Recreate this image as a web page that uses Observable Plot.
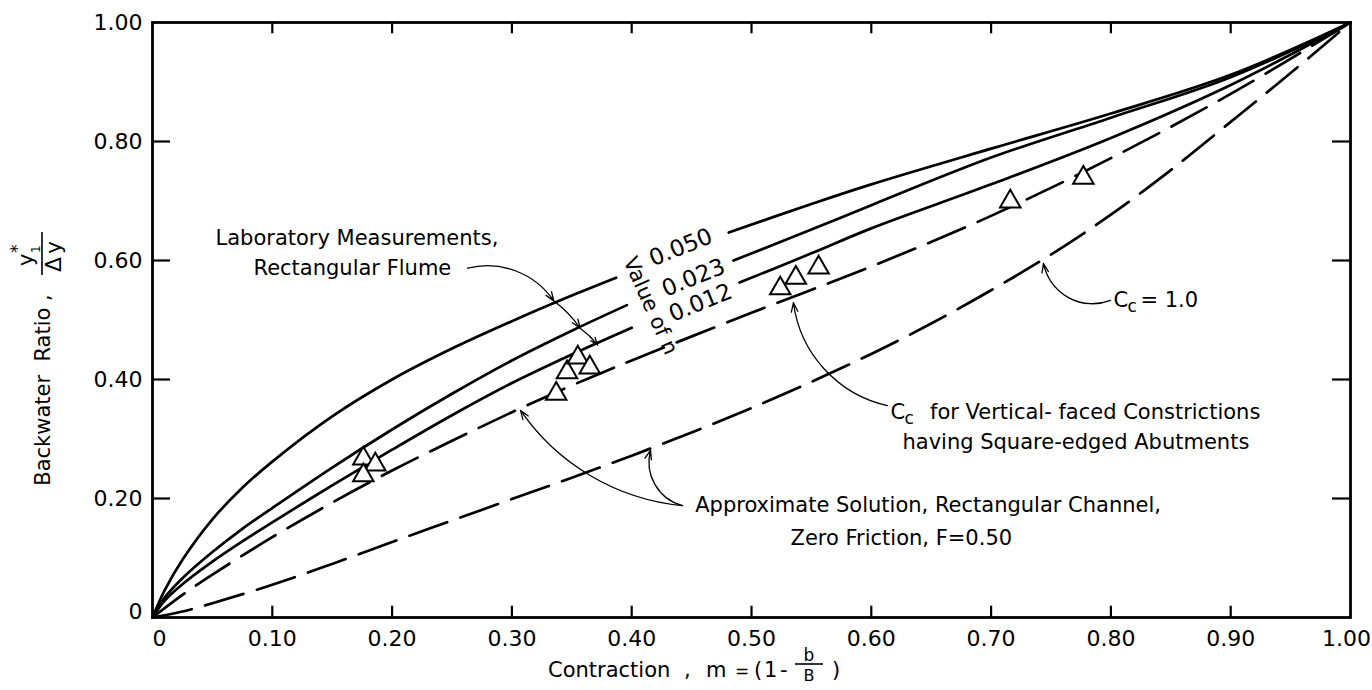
<!DOCTYPE html>
<html>
<head>
<meta charset="utf-8">
<script src="https://cdn.jsdelivr.net/npm/d3@7"></script>
<script src="https://cdn.jsdelivr.net/npm/@observablehq/plot@0.6"></script>
<style>
  body { margin: 0; background: #fff; }
  #chart { width: 1372px; height: 690px; }
</style>
</head>
<body>
<div id="chart"></div>
<script>
// ---------- tick values and labels ----------
const xTicks = [0, 0.1, 0.2, 0.3, 0.4, 0.5, 0.6, 0.7, 0.8, 0.9, 1.0];
const xTickLabels = ["0", "0.10", "0.20", "0.30", "0.40", "0.50", "0.60", "0.70", "0.80", "0.90", "1.00"];
const yTicks = [0, 0.2, 0.4, 0.6, 0.8, 1.0];
const yTickLabels = ["0", "0.20", "0.40", "0.60", "0.80", "1.00"];

// ---------- curves (m = contraction, r = backwater ratio); null = break for the label ----------
// Laboratory curve, n = 0.050
const n050M = [0, 0.01, 0.025, 0.05, 0.075, 0.1, 0.15, 0.2, 0.25, 0.3, 0.35, 0.387, null, 0.481, 0.55, 0.6, 0.7, 0.8, 0.9, 1.0];
const n050R = [0, 0.045, 0.097, 0.165, 0.218, 0.262, 0.338, 0.4, 0.452, 0.498, 0.541, 0.571, null, 0.647, 0.695, 0.728, 0.788, 0.847, 0.912, 1.0];
// Laboratory curve, n = 0.023
const n023M = [0, 0.01, 0.025, 0.05, 0.075, 0.1, 0.15, 0.2, 0.25, 0.3, 0.35, 0.396, null, 0.485, 0.55, 0.6, 0.7, 0.8, 0.9, 1.0];
const n023R = [0, 0.033, 0.066, 0.11, 0.149, 0.184, 0.252, 0.316, 0.376, 0.432, 0.482, 0.525, null, 0.600, 0.652, 0.693, 0.773, 0.840, 0.908, 1.0];
// Laboratory curve, n = 0.012
const n012M = [0, 0.01, 0.025, 0.05, 0.075, 0.1, 0.15, 0.2, 0.25, 0.3, 0.35, 0.40, null, 0.49, 0.55, 0.6, 0.7, 0.8, 0.9, 1.0];
const n012R = [0, 0.028, 0.056, 0.094, 0.128, 0.16, 0.222, 0.282, 0.34, 0.394, 0.442, 0.487, null, 0.563, 0.612, 0.654, 0.728, 0.806, 0.895, 1.0];
// Approximate solution, Cc for vertical-faced constrictions
const ccvM = [0, 0.025, 0.05, 0.1, 0.15, 0.2, 0.25, 0.3, 0.35, 0.4, 0.5, 0.6, 0.7, 0.8, 0.9, 1.0];
const ccvR = [0, 0.038, 0.072, 0.135, 0.193, 0.247, 0.297, 0.345, 0.39, 0.432, 0.512, 0.59, 0.675, 0.772, 0.88, 1.0];
// Approximate solution, Cc = 1.0
const cc1M = [0, 0.025, 0.05, 0.1, 0.15, 0.2, 0.25, 0.3, 0.35, 0.4, 0.45, 0.5, 0.55, 0.6, 0.65, 0.7, 0.75, 0.8, 0.85, 0.9, 0.95, 1.0];
const cc1R = [0, 0.01, 0.024, 0.055, 0.09, 0.127, 0.163, 0.199, 0.235, 0.272, 0.311, 0.352, 0.396, 0.443, 0.494, 0.55, 0.61, 0.677, 0.752, 0.833, 0.915, 1.0];

// Laboratory measurements (triangles)
const labM = [0.176, 0.186, 0.176, 0.337, 0.346, 0.355, 0.365, 0.524, 0.537, 0.556, 0.716, 0.777];
const labR = [0.267, 0.257, 0.239, 0.376, 0.412, 0.437, 0.420, 0.553, 0.571, 0.588, 0.699, 0.739];

// ---------- build tables ----------
function table(ms, rs) {
  return ms.map((m, i) => ({ m: m == null ? NaN : m, r: rs[i] == null ? NaN : rs[i] }));
}
const lab = labM.map((m, i) => ({ m, r: labR[i] }));
const innerX = xTicks.slice(1, -1);
const innerY = yTicks.slice(1, -1);

const FONT = "DejaVu Sans";
const lineW = 2.7;
const dash = "40,14";
const CURVE = "catmull-rom";

function note(t, x, y) { return [{ t, x, y }]; }
function arrow(x1, y1, x2, y2, bend) {
  return Plot.arrow([{ x1, y1, x2, y2 }], {
    x1: "x1", y1: "y1", x2: "x2", y2: "y2", bend,
    stroke: "black", strokeWidth: 1.3, headLength: 11, headAngle: 40
  });
}
function txt(data, opts) {
  return Plot.text(data, Object.assign({ x: "x", y: "y", text: "t", fill: "black", fontSize: 21, textAnchor: "start" }, opts));
}
const xl = xTicks.map((v, i) => ({ v, t: xTickLabels[i] }));
const yl = yTicks.map((v, i) => ({ v, t: yTickLabels[i] }));

const chart = Plot.plot({
  width: 1372,
  height: 690,
  marginLeft: 152,
  marginRight: 22,
  marginTop: 22,
  marginBottom: 73,
  style: { fontFamily: FONT, fontSize: "22px", color: "black", background: "white" },
  x: { domain: [0, 1], axis: null },
  y: { domain: [0, 1], axis: null },
  marks: [
    // tick labels
    Plot.text(xl.slice(1, -1), { x: "v", y: 0, text: "t", dy: 21, fontSize: 22, fill: "black" }),
    Plot.text(xl.slice(0, 1), { x: "v", y: 0, text: "t", dy: 21, dx: 7, fontSize: 22, fill: "black" }),
    Plot.text(xl.slice(-1), { x: "v", y: 0, text: "t", dy: 21, dx: -4, fontSize: 22, fill: "black" }),
    Plot.text(yl.slice(1), { x: 0, y: "v", text: "t", dx: -10, textAnchor: "end", fontSize: 22, fill: "black" }),
    Plot.text(yl.slice(0, 1), { x: 0, y: "v", text: "t", dx: -10, dy: -6, textAnchor: "end", fontSize: 22, fill: "black" }),

    // inward tick marks on all four sides
    Plot.ruleX(innerX, { x: d => d, y1: 0, y2: 0.019, stroke: "black", strokeWidth: 2.2 }),
    Plot.ruleX(innerX, { x: d => d, y1: 1, y2: 0.981, stroke: "black", strokeWidth: 2.2 }),
    Plot.ruleY(innerY, { y: d => d, x1: 0, x2: 0.015, stroke: "black", strokeWidth: 2.2 }),
    Plot.ruleY(innerY, { y: d => d, x1: 1, x2: 0.985, stroke: "black", strokeWidth: 2.2 }),

    // curves
    Plot.line(table(cc1M, cc1R), { x: "m", y: "r", curve: CURVE, stroke: "black", strokeWidth: lineW, strokeDasharray: dash }),
    Plot.line(table(ccvM, ccvR), { x: "m", y: "r", curve: CURVE, stroke: "black", strokeWidth: lineW, strokeDasharray: dash }),
    Plot.line(table(n012M, n012R), { x: "m", y: "r", curve: CURVE, stroke: "black", strokeWidth: lineW }),
    Plot.line(table(n023M, n023R), { x: "m", y: "r", curve: CURVE, stroke: "black", strokeWidth: lineW }),
    Plot.line(table(n050M, n050R), { x: "m", y: "r", curve: CURVE, stroke: "black", strokeWidth: lineW }),

    // laboratory measurements
    Plot.dot(lab, { x: "m", y: "r", symbol: "triangle", r: 7.6, stroke: "black", fill: "white", strokeWidth: 2 }),

    Plot.frame({ stroke: "black", strokeWidth: 2.8 }),

    // curve labels
    txt(note("0.050", 0.441, 0.622), { rotate: -22, textAnchor: "middle", fontSize: 23 }),
    txt(note("0.023", 0.4516, 0.571), { rotate: -22, textAnchor: "middle", fontSize: 23 }),
    txt(note("0.012", 0.4574, 0.529), { rotate: -22, textAnchor: "middle", fontSize: 23 }),
    txt(note("Value of n", 0.4157, 0.524), { rotate: 66, textAnchor: "middle", fontSize: 21 }),

    // laboratory measurement note
    txt(note("Laboratory Measurements,", 0.0526, 0.637)),
    txt(note("Rectangular Flume", 0.0843, 0.587)),
    arrow(0.263, 0.587, 0.335, 0.532, 35),
    arrow(0.335, 0.532, 0.357, 0.486, 10),
    arrow(0.357, 0.486, 0.3715, 0.458, 8),

    // Cc for vertical-faced constrictions
    txt(note("C", 0.616, 0.345)),
    txt(note("c", 0.616, 0.345), { dx: 14, dy: 6, fontSize: 17 }),
    txt(note("for Vertical- faced Constrictions", 0.649, 0.345)),
    txt(note("having Square-edged Abutments", 0.626, 0.294)),
    arrow(0.6135, 0.356, 0.535, 0.529, 35),

    // Cc = 1.0
    txt(note("C", 0.8022, 0.533)),
    txt(note("c", 0.8022, 0.533), { dx: 14, dy: 6, fontSize: 17 }),
    txt(note("= 1.0", 0.8247, 0.533)),
    arrow(0.7997, 0.533, 0.7437, 0.595, 50),

    // approximate solution
    txt(note("Approximate Solution, Rectangular Channel,", 0.453, 0.188)),
    txt(note("Zero Friction, F=0.50", 0.5326, 0.134)),
    arrow(0.4424, 0.188, 0.4157, 0.281, 45),
    arrow(0.4424, 0.188, 0.3072, 0.348, 25)
  ]
});

document.getElementById("chart").appendChild(chart);

// ---------- axis titles (with fraction notation) ----------
const svg = d3.select(chart);
const NB = "\u00a0";

// y title, rotated
const gy = svg.append("g")
  .attr("transform", "translate(42,390) rotate(-90)")
  .attr("font-family", FONT).attr("fill", "black").attr("text-anchor", "start");
gy.append("text").attr("x", 0).attr("y", 7.5).attr("text-anchor", "middle").attr("font-size", 21)
  .text("Backwater" + NB + NB + "Ratio" + NB + ",");
gy.append("line").attr("x1", 115).attr("x2", 158).attr("y1", 0).attr("y2", 0)
  .attr("stroke", "black").attr("stroke-width", 1.6);
gy.append("text").attr("x", 124).attr("y", -9).attr("font-size", 21).text("y");
gy.append("text").attr("x", 137).attr("y", -2).attr("font-size", 12).text("1");
gy.append("text").attr("x", 137).attr("y", -19).attr("font-size", 17).text("*");
gy.append("text").attr("x", 118).attr("y", 19).attr("font-size", 22).attr("letter-spacing", 3).text("Δy");

// x title
const gx = svg.append("g").attr("font-family", FONT).attr("fill", "black")
  .attr("font-size", 21).attr("text-anchor", "start");
gx.append("text").attr("x", 548).attr("y", 677).text("Contraction");
gx.append("text").attr("x", 684).attr("y", 677).text(",");
gx.append("text").attr("x", 706).attr("y", 677).text("m");
gx.append("text").attr("x", 735).attr("y", 677).attr("font-size", 17).text("=");
gx.append("text").attr("x", 754).attr("y", 677).text("(");
gx.append("text").attr("x", 764).attr("y", 677).text("1");
gx.append("text").attr("x", 780).attr("y", 677).text("-");
gx.append("line").attr("x1", 795).attr("x2", 823).attr("y1", 664).attr("y2", 664)
  .attr("stroke", "black").attr("stroke-width", 1.6);
gx.append("text").attr("x", 809).attr("y", 661).attr("text-anchor", "middle").attr("font-size", 17).text("b");
gx.append("text").attr("x", 809).attr("y", 681).attr("text-anchor", "middle").attr("font-size", 16).text("B");
gx.append("text").attr("x", 832).attr("y", 677).text(")");
</script>
</body>
</html>
